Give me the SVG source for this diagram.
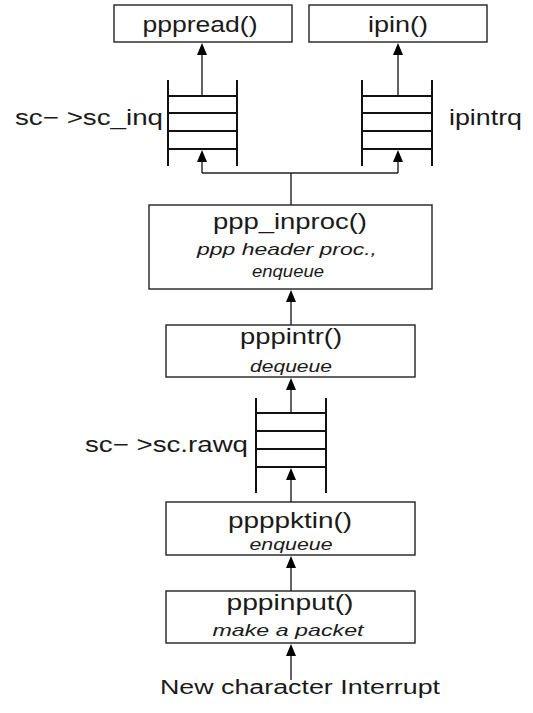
<svg xmlns="http://www.w3.org/2000/svg" width="533" height="713" viewBox="0 0 533 713">
<style>
.box{fill:#fff;stroke:#222;stroke-width:1.4}
.q{stroke:#111;stroke-width:2;fill:none}
.c{stroke:#222;stroke-width:1.4;fill:none}
.t{font-family:"Liberation Sans",Arial,sans-serif;font-size:22px;fill:#1a1a1a}
.i{font-family:"Liberation Sans",Arial,sans-serif;font-size:17px;font-style:italic;fill:#1a1a1a}
.m{text-anchor:middle}
</style>
<defs>
<path id="ah" d="M0 0 L5 12 L-5 12 Z" fill="#000"/>
</defs>
<rect width="533" height="713" fill="#fff"/>
<g id="connectors">
<line class="c" x1="202" y1="96" x2="202" y2="50"/>
<line class="c" x1="398" y1="96" x2="398" y2="50"/>
<path class="c" d="M202 173 H398 M291 173 V205"/>
<line class="c" x1="202" y1="173" x2="202" y2="158"/>
<line class="c" x1="398" y1="173" x2="398" y2="158"/>
<line class="c" x1="291" y1="325" x2="291" y2="298"/>
<line class="c" x1="291" y1="413" x2="291" y2="386"/>
<line class="c" x1="291" y1="502" x2="291" y2="476"/>
<line class="c" x1="291" y1="591" x2="291" y2="564"/>
<line class="c" x1="291" y1="680" x2="291" y2="652"/>
<use href="#ah" x="202" y="43"/>
<use href="#ah" x="398" y="43"/>
<use href="#ah" x="202" y="150"/>
<use href="#ah" x="398" y="150"/>
<use href="#ah" x="291" y="290"/>
<use href="#ah" x="291" y="378"/>
<use href="#ah" x="291" y="468"/>
<use href="#ah" x="291" y="556"/>
<use href="#ah" x="291" y="644"/>
</g>
<g id="pppread">
<rect class="box" x="114" y="5" width="178" height="37"/>
<text class="t m" x="200" y="32" textLength="115" lengthAdjust="spacingAndGlyphs">pppread()</text>
</g>
<g id="ipin">
<rect class="box" x="309" y="5" width="178" height="37"/>
<text class="t m" x="398" y="32" textLength="60" lengthAdjust="spacingAndGlyphs">ipin()</text>
</g>
<g id="sc_inq">
<path class="q" d="M168 80 V166 M237 80 V166 M168 96 H237 M168 113 H237 M168 131 H237 M168 149 H237"/>
<text class="t" x="15" y="125" textLength="148" lengthAdjust="spacingAndGlyphs">sc− &gt;sc_inq</text>
</g>
<g id="ipintrq">
<path class="q" d="M362 80 V166 M432 80 V166 M362 96 H432 M362 113 H432 M362 131 H432 M362 149 H432"/>
<text class="t" x="449" y="125" textLength="73" lengthAdjust="spacingAndGlyphs">ipintrq</text>
</g>
<g id="ppp_inproc">
<rect class="box" x="149" y="205" width="283" height="84"/>
<text class="t m" x="290" y="229" textLength="154" lengthAdjust="spacingAndGlyphs">ppp_inproc()</text>
<text class="i m" x="287" y="255" textLength="180" lengthAdjust="spacingAndGlyphs">ppp header proc.,</text>
<text class="i m" x="288" y="277" textLength="72" lengthAdjust="spacingAndGlyphs">enqueue</text>
</g>
<g id="pppintr">
<rect class="box" x="166" y="325" width="249" height="52"/>
<text class="t m" x="291" y="344" textLength="102" lengthAdjust="spacingAndGlyphs">pppintr()</text>
<text class="i m" x="291" y="372" textLength="82" lengthAdjust="spacingAndGlyphs">dequeue</text>
</g>
<g id="sc_rawq">
<path class="q" d="M256 398 V493 M326 398 V493 M256 413 H326 M256 431 H326 M256 449 H326 M256 467 H326"/>
<text class="t" x="85" y="452" textLength="163" lengthAdjust="spacingAndGlyphs">sc− &gt;sc.rawq</text>
</g>
<g id="ppppktin">
<rect class="box" x="166" y="502" width="249" height="53"/>
<text class="t m" x="290" y="528" textLength="124" lengthAdjust="spacingAndGlyphs">ppppktin()</text>
<text class="i m" x="291" y="550" textLength="83" lengthAdjust="spacingAndGlyphs">enqueue</text>
</g>
<g id="pppinput">
<rect class="box" x="166" y="591" width="249" height="52"/>
<text class="t m" x="290" y="610" textLength="127" lengthAdjust="spacingAndGlyphs">pppinput()</text>
<text class="i m" x="288" y="636" textLength="151" lengthAdjust="spacingAndGlyphs">make a packet</text>
</g>
<g id="interrupt">
<text class="t" x="160" y="694" style="font-size:20px" textLength="280" lengthAdjust="spacingAndGlyphs">New character Interrupt</text>
</g>
</svg>
